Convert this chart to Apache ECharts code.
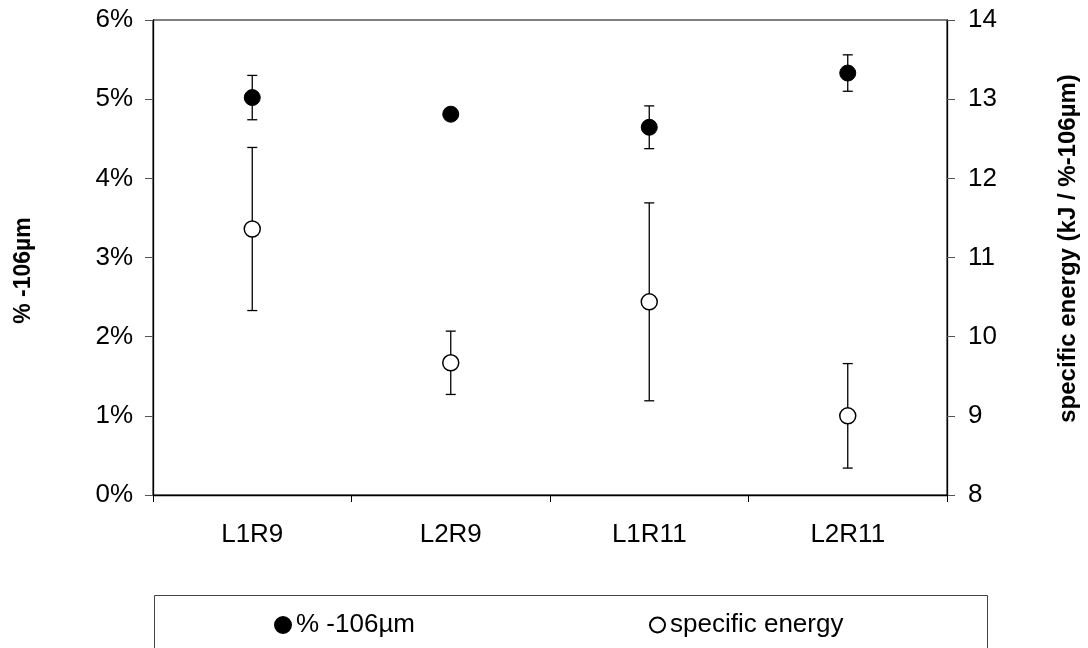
<!DOCTYPE html>
<html>
<head>
<meta charset="utf-8">
<script src="https://cdn.jsdelivr.net/npm/echarts@6/dist/echarts.min.js"></script>
<style>html,body{margin:0;padding:0;background:#fff}#c{width:1088px;height:648px}</style>
</head>
<body>
<div id="c"></div>
<script>
const categories = ['L1R9', 'L2R9', 'L1R11', 'L2R11'];
const fineValues = [5.02, 4.81, 4.645, 5.33];      // % -106µm
const fineErrors = [0.28, 0.0, 0.27, 0.23];
const energyValues = [11.36, 9.67, 10.44, 9.00];    // kJ / %-106µm
const energyErrors = [1.03, 0.40, 1.25, 0.66];
const leftTicks = {min: 0, max: 6, interval: 1};
const rightTicks = {min: 8, max: 14, interval: 1};
const seriesNames = ['% -106µm', 'specific energy'];

const FONT = 'Liberation Sans, Arial, sans-serif';

function errData(vals, errs) {
  return vals.map((v, i) => [i, v - errs[i], v + errs[i]]);
}
function errRender(params, api) {
  const x = api.value(0);
  const lo = api.coord([x, api.value(1)]);
  const hi = api.coord([x, api.value(2)]);
  const cap = 5;
  const st = {stroke: '#000', lineWidth: 1.3};
  return {
    type: 'group',
    children: [
      {type: 'line', shape: {x1: lo[0], y1: lo[1], x2: hi[0], y2: hi[1]}, style: st},
      {type: 'line', shape: {x1: lo[0] - cap, y1: lo[1], x2: lo[0] + cap, y2: lo[1]}, style: st},
      {type: 'line', shape: {x1: hi[0] - cap, y1: hi[1], x2: hi[0] + cap, y2: hi[1]}, style: st}
    ]
  };
}

const legendText = {color: '#000', fontSize: 26, fontFamily: FONT};

const chart = echarts.init(document.getElementById('c'));
chart.setOption({
  animation: false,
  backgroundColor: '#fff',
  textStyle: {fontFamily: FONT},
  grid: {left: 153, right: 137, top: 20, bottom: 153, show: true, borderColor: '#000', borderWidth: 1},
  xAxis: {
    type: 'category',
    data: categories,
    boundaryGap: true,
    axisLine: {lineStyle: {color: '#000', width: 1.3}},
    axisTick: {show: true, length: 7, lineStyle: {color: '#000'}},
    axisLabel: {color: '#000', fontSize: 26, fontFamily: FONT, margin: 27},
    splitLine: {show: false}
  },
  yAxis: [
    {
      type: 'value', position: 'left',
      min: leftTicks.min, max: leftTicks.max, interval: leftTicks.interval,
      name: seriesNames[0], nameLocation: 'middle', nameGap: 118, nameRotate: 90,
      nameTextStyle: {color: '#000', fontSize: 23, fontWeight: 'bold', fontFamily: FONT, padding: [0, 26, 0, 0]},
      axisLine: {show: true, lineStyle: {color: '#000', width: 1.3}},
      axisTick: {show: true, length: 8, lineStyle: {color: '#555'}},
      axisLabel: {color: '#000', fontSize: 26, fontFamily: FONT, margin: 20, formatter: '{value}%'},
      splitLine: {show: false}
    },
    {
      type: 'value', position: 'right',
      min: rightTicks.min, max: rightTicks.max, interval: rightTicks.interval,
      name: 'specific energy (kJ / %-106µm)', nameLocation: 'middle', nameGap: 109, nameRotate: 90,
      nameTextStyle: {color: '#000', fontSize: 24, fontWeight: 'bold', fontFamily: FONT, padding: [0, 0, 0, 18]},
      axisLine: {show: true, lineStyle: {color: '#000', width: 1.3}},
      axisTick: {show: true, length: 8, lineStyle: {color: '#555'}},
      axisLabel: {color: '#000', fontSize: 26, fontFamily: FONT, margin: 21},
      splitLine: {show: false}
    }
  ],
  legend: [
    {
      left: 269, top: 607, itemWidth: 16, itemHeight: 16, itemGap: 0,
      textStyle: legendText,
      data: [{name: seriesNames[0], icon: 'circle'}]
    },
    {
      left: 644, top: 607, itemWidth: 15, itemHeight: 15, itemGap: 0,
      textStyle: legendText,
      data: [{name: seriesNames[1], icon: 'circle'}]
    }
  ],
  graphic: [{
    type: 'rect', left: 152, top: 593, z: -1,
    shape: {width: 833, height: 70},
    style: {fill: 'none', stroke: '#444', lineWidth: 1}
  }],
  series: [
    {type: 'custom', name: 'errFine', yAxisIndex: 0, renderItem: errRender, data: errData(fineValues, fineErrors), z: 1},
    {type: 'custom', name: 'errEnergy', yAxisIndex: 1, renderItem: errRender, data: errData(energyValues, energyErrors), z: 1},
    {
      type: 'scatter', name: seriesNames[0], yAxisIndex: 0,
      data: fineValues, symbol: 'circle', symbolSize: 16,
      itemStyle: {color: '#000', borderColor: '#000', borderWidth: 1, opacity: 1}, z: 5
    },
    {
      type: 'scatter', name: seriesNames[1], yAxisIndex: 1,
      data: energyValues, symbol: 'circle', symbolSize: 16,
      itemStyle: {color: '#fff', borderColor: '#000', borderWidth: 1.5, opacity: 1}, z: 5
    }
  ]
});
</script>
</body>
</html>
